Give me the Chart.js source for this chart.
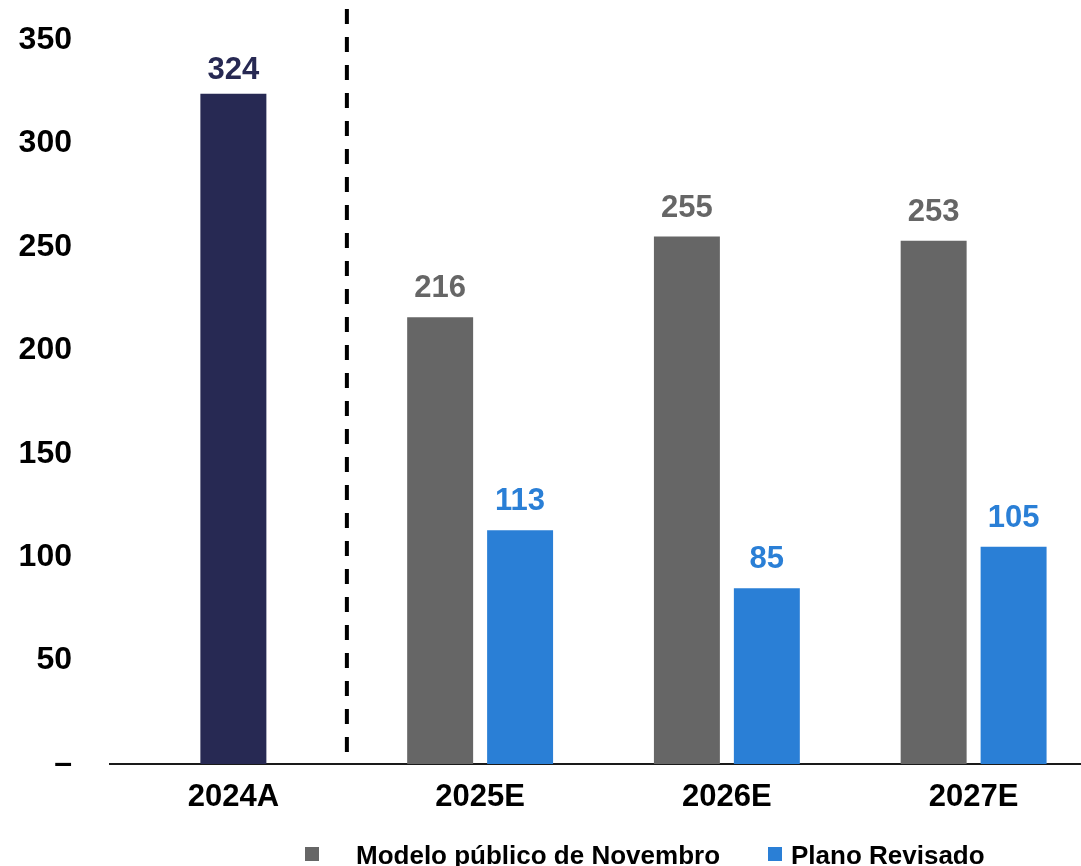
<!DOCTYPE html>
<html>
<head>
<meta charset="utf-8">
<script src="https://cdn.jsdelivr.net/npm/chart.js@4"></script>
<style>
  html, body { margin: 0; padding: 0; background: #fff; overflow: hidden; }
  #wrap { position: relative; width: 1100px; height: 866px; }
  #legend { position: absolute; left: 0; top: 842px; display: flex; align-items: flex-start;
    font-family: "Liberation Sans", Arial, sans-serif; font-weight: bold; font-size: 26px; line-height: 26px; color: #000; }
  #legend .box { width: 14px; height: 14px; display: inline-block; margin-top: 5px; }
</style>
</head>
<body>
<div id="wrap">
  <canvas id="capex-chart"></canvas>
  <div id="legend"></div>
</div>
<script>
// Data
const categories = ['2024A', '2025E', '2026E', '2027E'];
const actual = [324, null, null, null];
const novemberModel = [null, 216, 255, 253];
const revisedPlan = [null, 113, 85, 105];
const yTicks = [0, 50, 100, 150, 200, 250, 300, 350];

const NAVY = '#272953';
const GRAY = '#666666';
const BLUE = '#2a7fd6';
const FONT = '"Liberation Sans", Arial, sans-serif';

// Value labels above each bar
const valueLabels = {
  id: 'valueLabels',
  afterDatasetsDraw(chart) {
    const ctx = chart.ctx;
    ctx.save();
    ctx.font = 'bold 31px ' + FONT;
    ctx.textAlign = 'center';
    ctx.textBaseline = 'alphabetic';
    chart.data.datasets.forEach((ds, i) => {
      chart.getDatasetMeta(i).data.forEach((bar, j) => {
        const v = ds.data[j];
        if (v === null) return;
        ctx.fillStyle = ds.backgroundColor;
        ctx.fillText(String(v), bar.x, bar.y - ds.labelGap);
      });
    });
    ctx.restore();
  }
};

// Dashed separator between actual and estimates
const separator = {
  id: 'separator',
  afterDraw(chart) {
    const x = chart.scales.x.getPixelForValue(0.46);
    const ctx = chart.ctx;
    ctx.save();
    ctx.strokeStyle = '#000';
    ctx.lineWidth = 4;
    ctx.setLineDash([15, 13]);
    ctx.beginPath();
    ctx.moveTo(x, 9);
    ctx.lineTo(x, chart.chartArea.bottom - 10);
    ctx.stroke();
    ctx.restore();
  }
};

const ctx = document.getElementById('capex-chart').getContext('2d');
const chart = new Chart(ctx, {
  type: 'bar',
  data: {
    labels: categories,
    datasets: [
      { label: '2024A', data: actual, backgroundColor: NAVY, labelGap: 15, showInLegend: false },
      { label: 'Modelo público de Novembro', data: novemberModel, backgroundColor: GRAY, labelGap: 20, showInLegend: true },
      { label: 'Plano Revisado', data: revisedPlan, backgroundColor: BLUE, labelGap: 20, showInLegend: true }
    ]
  },
  options: {
    responsive: true,
    maintainAspectRatio: false,
    animation: false,
    skipNull: true,
    categoryPercentage: 0.648,
    barPercentage: 0.825,
    maxBarThickness: 66,
    layout: { padding: { top: 40, right: 3, bottom: 32, left: 0 } },
    plugins: {
      legend: { display: false },
      tooltip: { enabled: false }
    },
    scales: {
      x: {
        grid: { display: false, drawTicks: false },
        border: { display: true, color: '#1a1a1a', width: 2 },
        ticks: { color: '#000', padding: 15, font: { family: FONT, size: 31, weight: 'bold' } },
        afterFit: s => { s.height = 70; s.paddingLeft = 0; s.paddingRight = 0; }
      },
      y: {
        min: 0,
        max: 350,
        grid: { display: false, drawTicks: false },
        border: { display: false },
        afterBuildTicks: s => { s.ticks = yTicks.map(v => ({ value: v })); },
        afterFit: s => { s.width = 110; s.paddingTop = 0; s.paddingBottom = 0; },
        ticks: {
          color: '#000',
          padding: 38,
          font: { family: FONT, size: 32, weight: 'bold' },
          callback: v => (v === 0 ? '–' : String(v))
        }
      }
    }
  },
  plugins: [valueLabels, separator]
});

// Legend built from the datasets
const legend = document.getElementById('legend');
const legendGaps = [[305, 37], [48, 9]];
chart.data.datasets.filter(ds => ds.showInLegend).forEach((ds, i) => {
  const box = document.createElement('span');
  box.className = 'box';
  box.style.background = ds.backgroundColor;
  box.style.marginLeft = legendGaps[i][0] + 'px';
  const txt = document.createElement('span');
  txt.textContent = ds.label;
  txt.style.marginLeft = legendGaps[i][1] + 'px';
  legend.appendChild(box);
  legend.appendChild(txt);
});
</script>
</body>
</html>
